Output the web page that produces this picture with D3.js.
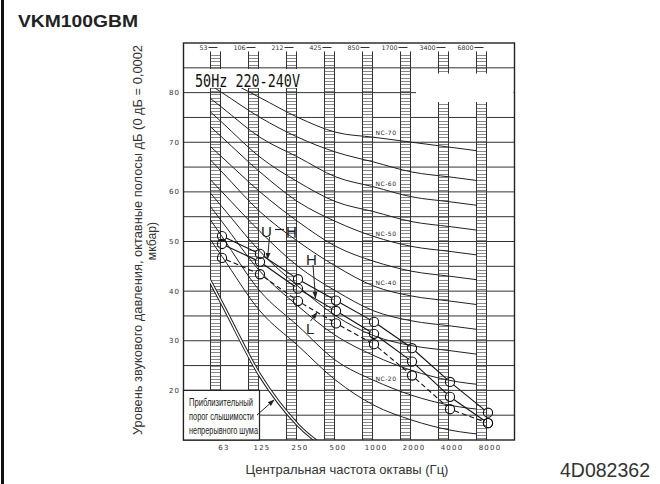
<!DOCTYPE html>
<html><head><meta charset="utf-8">
<script src="https://cdn.jsdelivr.net/npm/d3@7"></script>
<style>body{margin:0;background:#fff;} svg{display:block;} text{-webkit-font-smoothing:antialiased;}</style>
</head><body><svg id="c" width="660" height="484"></svg>
<script>
// ---------- data ----------
const octaves = ["63","125","250","500","1000","2000","4000","8000"];
const columnLabels = ["53","106","212","425","850","1700","3400","6800"];
const yTicks = [20,30,40,50,60,70,80];
const gridLevels = [15,20,25,30,35,40,45,50,55,60,65,70,75,80,85];
const nc15 = [47,36,29,22,17,14,12,11];
const nc20 = [51,40,33,26,22,19,17,16];
const nc25 = [54,44,37,31,27,24,22,21];
const nc30 = [57,48,41,35,31,29,28,27];
const nc35 = [60,52,45,40,36,34,33,32];
const nc40 = [64,56,50,45,41,39,38,37];
const nc45 = [67,60,54,49,46,44,43,42];
const nc50 = [71,64,58,54,51,49,48,47];
const nc55 = [74,67,62,58,56,54,53,52];
const nc60 = [77,71,67,63,61,59,58,57];
const nc65 = [80,75,71,68,66,64,63,62];
const nc70 = [83,79,75,72,71,70,69,68];
const ncLabelled = ["NC-70","NC-60","NC-50","NC-40","NC-20"];
const threshold = [37.5,23,13,7];            // 63..500 Hz
const seriesUH = [51.1,47.5,42.4,38.1,33.8,28.5,21.7,15.5];
const seriesH  = [49.5,45.9,40.5,36.0,31.4,25.8,18.7,13.4];
const seriesL  = [46.7,43.4,38.0,33.5,29.3,23.0,16.2,13.4];

const ncSets = [[15,nc15],[20,nc20],[25,nc25],[30,nc30],[35,nc35],[40,nc40],
                [45,nc45],[50,nc50],[55,nc55],[60,nc60],[65,nc65],[70,nc70]];

// ---------- scales ----------
const svg = d3.select("#c");
const x = d3.scalePoint().domain(octaves).range([222,488]);
const y = d3.scaleLinear().domain([10,90]).range([440,43]);
const L = 183.5, R = 514.5, T = y(90), B = y(10);
const step = x.step();

svg.append("rect").attr("width",660).attr("height",484).attr("fill","#fff");

const defs = svg.append("defs");
defs.append("marker").attr("id","ah").attr("viewBox","0 0 10 10").attr("refX",9).attr("refY",5)
  .attr("markerWidth",7).attr("markerHeight",7).attr("orient","auto-start-reverse")
  .append("path").attr("d","M0,1.5 L10,5 L0,8.5 Z").attr("fill","#222");
const clipL = x("63") - 12, clipR = x("8000") - 11;
defs.append("clipPath").attr("id","cl").append("rect")
  .attr("x",clipL).attr("y",T).attr("width",clipR-clipL).attr("height",B-T);

// ---------- grid ----------
svg.append("g").selectAll("line").data(gridLevels).join("line")
  .attr("x1",L).attr("x2",R).attr("y1",d=>y(d)).attr("y2",d=>y(d))
  .attr("stroke","#333").attr("stroke-width",1);

// ---------- ladder columns ----------
const colW = 10, colOff = 11.5, colTopDb = 88.3;
const cols = svg.append("g");
octaves.forEach((o,i)=>{
  const xl = x(o) - colOff, xr = xl + colW;
  const g = cols.append("g");
  g.selectAll("line.r").data(d3.range(10.33, colTopDb, 2/3)).join("line")
    .attr("x1",xl).attr("x2",xr).attr("y1",d=>Math.round(y(d))+0.5).attr("y2",d=>Math.round(y(d))+0.5)
    .attr("stroke","#888").attr("stroke-width",1);
  [xl,xr].forEach(xx=>g.append("line").attr("x1",xx).attr("x2",xx)
    .attr("y1",y(colTopDb)).attr("y2",B).attr("stroke","#333").attr("stroke-width",1));
  g.append("line").attr("x1",xl-2).attr("x2",xl+7).attr("y1",47.5).attr("y2",47.5)
    .attr("stroke","#333").attr("stroke-width",1);
  g.append("text").attr("x",xl-3).attr("y",49.8).attr("text-anchor","end")
    .attr("font-family","DejaVu Sans").attr("font-size",6.3).attr("fill","#333")
    .text(columnLabels[i]);
});

// ---------- NC curves ----------
const lineGen = d3.line().curve(d3.curveMonotoneX);
function pts(vals){
  const p = vals.map((v,i)=>[x(octaves[i]), y(v)]);
  p.unshift([p[0][0]-step*0.5, y(vals[0] + (vals[0]-vals[1])*0.5)]);
  return p;
}
const ncG = svg.append("g").attr("clip-path","url(#cl)");
ncSets.forEach(([lvl,vals])=>{
  ncG.append("path").attr("d",lineGen(pts(vals))).attr("fill","none")
    .attr("stroke","#222").attr("stroke-width",1);
});
// threshold double line
const thrPath = lineGen(pts(threshold));
ncG.append("path").attr("d",thrPath).attr("fill","none").attr("stroke","#222").attr("stroke-width",3.4);
ncG.append("path").attr("d",thrPath).attr("fill","none").attr("stroke","#fff").attr("stroke-width",1.4);

// NC labels
ncSets.forEach(([lvl,vals])=>{
  const name = "NC-"+lvl;
  if(!ncLabelled.includes(name)) return;
  const v = vals[4] + (vals[5]-vals[4])*0.32;
  svg.append("text").attr("x",386).attr("y",y(v)-4).attr("text-anchor","middle")
    .attr("font-family","DejaVu Sans").attr("font-size",6).attr("letter-spacing",0.5)
    .attr("fill","#222").text(name);
});

// ---------- masks ----------
svg.append("rect").attr("x",L+1).attr("y",69).attr("width",x("250")+1-L).attr("height",19).attr("fill","#fff");
svg.append("rect").attr("x",416).attr("y",73.5).attr("width",R-416-1).attr("height",28.5).attr("fill","#fff");
svg.append("text").attr("x",195).attr("y",86.5).attr("font-family","DejaVu Sans Mono")
  .attr("font-size",17).attr("textLength",105).attr("lengthAdjust","spacingAndGlyphs")
  .attr("fill","#111").text("50Hz 220-240V");

// ---------- frame ----------
svg.append("rect").attr("x",L).attr("y",T).attr("width",R-L).attr("height",B-T)
  .attr("fill","none").attr("stroke","#222").attr("stroke-width",1.4);

// ---------- measured series ----------
const r = 4.6;
function drawSeries(vals, dash){
  const p = vals.map((v,i)=>[x(octaves[i]), y(v)]);
  const g = svg.append("g");
  for(let i=0;i<p.length-1;i++){
    const [x1,y1]=p[i],[x2,y2]=p[i+1];
    const len = Math.hypot(x2-x1,y2-y1); if(len<2*r) continue;
    const dx=(x2-x1)/len, dy=(y2-y1)/len;
    g.append("line").attr("x1",x1+dx*r).attr("y1",y1+dy*r).attr("x2",x2-dx*r).attr("y2",y2-dy*r)
      .attr("stroke","#111").attr("stroke-width",1.1).attr("stroke-dasharray",dash?"5,3":null);
  }
  g.selectAll("circle").data(p).join("circle").attr("cx",d=>d[0]).attr("cy",d=>d[1]).attr("r",r)
    .attr("fill","none").attr("stroke","#111").attr("stroke-width",1.1);
}
drawSeries(seriesUH,false);
drawSeries(seriesH,false);
drawSeries(seriesL,true);

// ---------- threshold box ----------
svg.append("rect").attr("x",L).attr("y",y(20)).attr("width",259.5-L).attr("height",B-y(20))
  .attr("fill","#fff").attr("stroke","#222").attr("stroke-width",1.2);
[["Приблизительный",406,64],["порог слышимости",420,65],["непрерывного шума",434,69]].forEach(([t,yy,w])=>{
  svg.append("text").attr("x",189).attr("y",yy).attr("font-family","Liberation Sans")
    .attr("font-size",11).attr("textLength",w).attr("lengthAdjust","spacingAndGlyphs")
    .attr("fill","#222").text(t);
});
svg.append("line").attr("x1",257).attr("y1",415).attr("x2",274).attr("y2",400)
  .attr("stroke","#222").attr("stroke-width",1).attr("marker-end","url(#ah)");

// ---------- annotations ----------
const ann = svg.append("g").attr("font-family","Liberation Sans").attr("font-size",15).attr("fill","#222");
ann.append("text").attr("x",261).attr("y",237).text("U");
ann.append("line").attr("x1",275).attr("x2",284).attr("y1",229.5).attr("y2",229.5).attr("stroke","#222").attr("stroke-width",1.2);
ann.append("text").attr("x",286).attr("y",237).text("H");
ann.append("line").attr("x1",269.5).attr("y1",237).attr("x2",267.5).attr("y2",259)
  .attr("stroke","#222").attr("stroke-width",1).attr("marker-end","url(#ah)");
ann.append("text").attr("x",306).attr("y",265).text("H");
ann.append("line").attr("x1",313).attr("y1",265).attr("x2",315.5).attr("y2",298)
  .attr("stroke","#222").attr("stroke-width",1).attr("marker-end","url(#ah)");
ann.append("text").attr("x",306).attr("y",333.5).text("L");
ann.append("line").attr("x1",310.5).attr("y1",321).attr("x2",317).attr("y2",312.5)
  .attr("stroke","#222").attr("stroke-width",1).attr("marker-end","url(#ah)");

// ---------- axes text ----------
svg.append("g").selectAll("text").data(yTicks).join("text")
  .attr("x",180).attr("y",d=>y(d)).attr("dy","0.35em").attr("text-anchor","end")
  .attr("font-family","DejaVu Sans").attr("font-size",7).attr("letter-spacing",1)
  .attr("fill","#333").text(d=>d);
svg.append("g").selectAll("text").data(octaves).join("text")
  .attr("x",d=>x(d)+2).attr("y",450).attr("text-anchor","middle")
  .attr("font-family","DejaVu Sans").attr("font-size",7).attr("letter-spacing",1.2)
  .attr("fill","#333").text(d=>d);

svg.append("text").attr("x",347).attr("y",473.5).attr("text-anchor","middle")
  .attr("font-family","Liberation Sans").attr("font-size",13).attr("fill","#333")
  .text("Центральная частота октавы (Гц)");
svg.append("text").attr("transform","translate(142,240) rotate(-90)").attr("text-anchor","middle")
  .attr("font-family","Liberation Sans").attr("font-size",12.2).attr("fill","#333")
  .attr("textLength",390).attr("lengthAdjust","spacingAndGlyphs")
  .text("Уровень звукового давления, октавные полосы дБ (0 дБ = 0,0002");
svg.append("text").attr("transform","translate(156,241) rotate(-90)").attr("text-anchor","middle")
  .attr("font-family","Liberation Sans").attr("font-size",12.2).attr("fill","#333")
  .text("мкбар)");

svg.append("text").attr("x",18).attr("y",27).attr("font-family","Liberation Sans")
  .attr("font-weight","bold").attr("font-size",17).attr("textLength",120)
  .attr("lengthAdjust","spacingAndGlyphs").attr("fill","#222").text("VKM100GBM");
svg.append("text").attr("x",560).attr("y",477).attr("font-family","Liberation Sans")
  .attr("font-size",19.5).attr("fill","#333").text("4D082362");
svg.append("rect").attr("x",1).attr("y",0).attr("width",3).attr("height",484).attr("fill","#111");
</script></body></html>
